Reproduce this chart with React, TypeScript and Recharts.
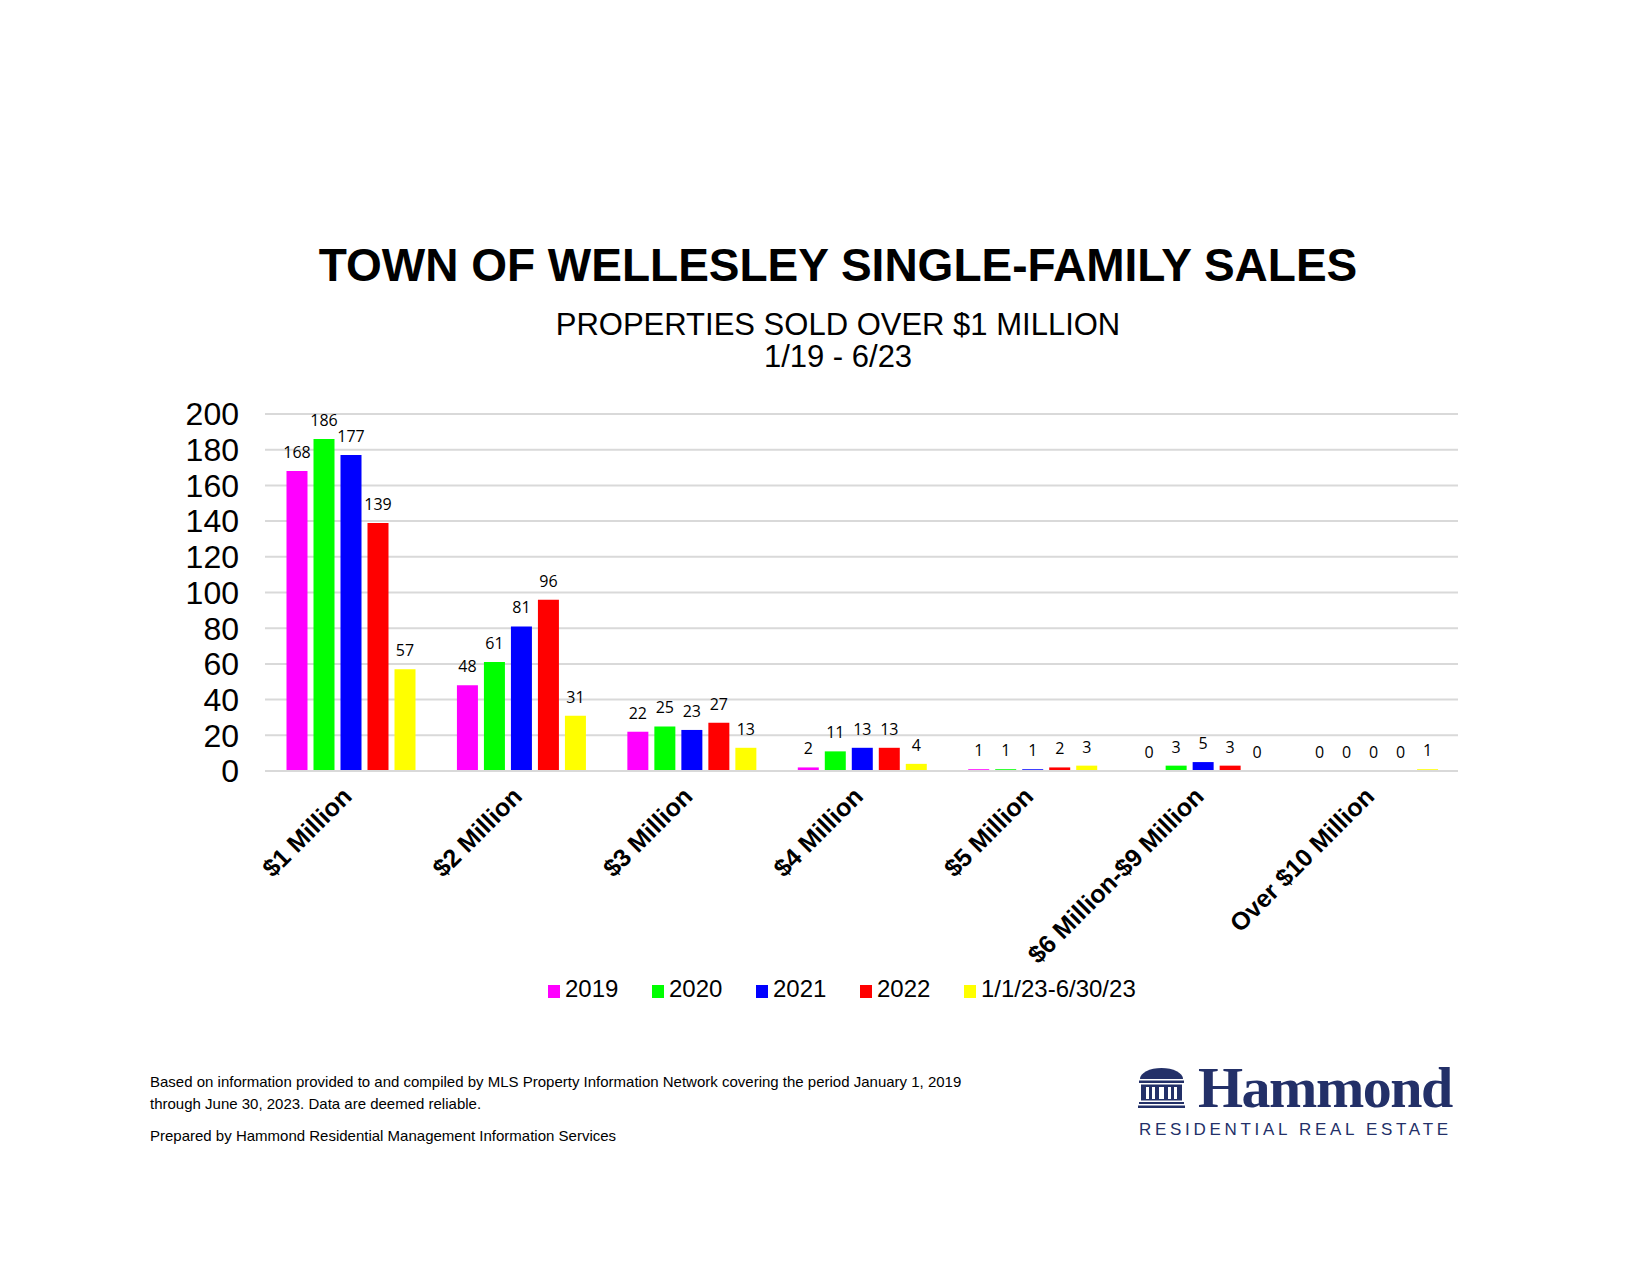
import React from "react"
import { BarChart, Bar, XAxis, YAxis, CartesianGrid, LabelList } from "recharts"

const CATEGORIES = [
  "$1 Million",
  "$2 Million",
  "$3 Million",
  "$4 Million",
  "$5 Million",
  "$6 Million-$9 Million",
  "Over $10 Million",
]

const SALES_2019 = [168, 48, 22, 2, 1, 0, 0]
const SALES_2020 = [186, 61, 25, 11, 1, 3, 0]
const SALES_2021 = [177, 81, 23, 13, 1, 5, 0]
const SALES_2022 = [139, 96, 27, 13, 2, 3, 0]
const SALES_2023 = [57, 31, 13, 4, 3, 0, 1]

const Y_TICKS = [0, 20, 40, 60, 80, 100, 120, 140, 160, 180, 200]

const SERIES = [
  { key: "y2019", name: "2019", color: "#ff00ff", values: SALES_2019 },
  { key: "y2020", name: "2020", color: "#00ff00", values: SALES_2020 },
  { key: "y2021", name: "2021", color: "#0000ff", values: SALES_2021 },
  { key: "y2022", name: "2022", color: "#ff0000", values: SALES_2022 },
  { key: "y2023", name: "1/1/23-6/30/23", color: "#ffff00", values: SALES_2023 },
]

const NAVY = "#233068"
const GRID = "#d9d9d9"
const SANS = "'Liberation Sans', Arial, sans-serif"

const data = CATEGORIES.map((category, i) => {
  const row: Record<string, string | number> = { category }
  SERIES.forEach((s) => {
    row[s.key] = s.values[i]
  })
  return row
})

function CategoryTick({ x, y, payload }: any) {
  const tx = x + 3
  const ty = y + 27
  return (
    <text
      x={tx}
      y={ty}
      transform={`rotate(-45 ${tx} ${ty})`}
      textAnchor="end"
      fontFamily={SANS}
      fontWeight="bold"
      fontSize={25}
      fill="#000"
    >
      {payload.value}
    </text>
  )
}

function HammondLogo() {
  return (
    <g fill={NAVY}>
      <path d="M1140,1079 A21.5,11 0 0 1 1183,1079 Z" />
      <rect x={1139} y={1080.5} width={45} height={2.5} />
      <rect x={1141} y={1084.5} width={41} height={16} />
      <rect x={1146} y={1087} width={3} height={12} fill="#fff" />
      <rect x={1152} y={1087} width={3} height={12} fill="#fff" />
      <rect x={1159} y={1087} width={5} height={12} fill="#fff" />
      <rect x={1168} y={1087} width={3} height={12} fill="#fff" />
      <rect x={1174} y={1087} width={3} height={12} fill="#fff" />
      <rect x={1139} y={1102} width={45} height={2} />
      <rect x={1138} y={1105.5} width={47} height={2.5} />
      <text
        x={1198}
        y={1107}
        fontFamily="'Liberation Serif', 'Times New Roman', serif"
        fontWeight="bold"
        fontSize={58}
        letterSpacing={-1.5}
      >
        Hammond
      </text>
      <text x={1139} y={1135} fontFamily={SANS} fontSize={17} letterSpacing={3.7}>
        RESIDENTIAL REAL ESTATE
      </text>
    </g>
  )
}

export default function App() {
  return (
    <div
      style={{
        position: "absolute",
        left: 0,
        top: 0,
        width: 1650,
        height: 1275,
        background: "#fff",
        fontFamily: SANS,
        overflow: "hidden",
      }}
    >
      <div style={{ position: "absolute", left: 0, top: 0 }}>
        <BarChart
          width={1650}
          height={1275}
          data={data}
          margin={{ top: 414, right: 192, left: 205, bottom: 404 }}
          barCategoryGap={21.5}
          barGap={6}
        >
          <CartesianGrid vertical={false} stroke={GRID} strokeWidth={2} />
          <XAxis
            dataKey="category"
            height={100}
            axisLine={{ stroke: GRID, strokeWidth: 2 }}
            tickLine={false}
            tickSize={0}
            tickMargin={0}
            interval={0}
            tick={<CategoryTick />}
          />
          <YAxis
            width={60}
            domain={[0, 200]}
            ticks={Y_TICKS}
            interval={0}
            axisLine={false}
            tickLine={false}
            tickSize={0}
            tickMargin={26}
            tick={{ fontSize: 32, fill: "#000", fontFamily: SANS }}
          />
          {SERIES.map((s) => (
            <Bar
              key={s.key}
              dataKey={s.key}
              name={s.name}
              fill={s.color}
              minPointSize={0.01}
              isAnimationActive={false}
            >
              <LabelList
                dataKey={s.key}
                position="top"
                offset={13}
                fill="#000"
                fontSize={16}
                fontFamily="'Open Sans', sans-serif"
              />
            </Bar>
          ))}
        </BarChart>
      </div>

      <div
        style={{
          position: "absolute",
          left: 548,
          top: 975,
          display: "flex",
          alignItems: "flex-end",
          whiteSpace: "nowrap",
        }}
      >
        {SERIES.map((s) => (
          <div key={s.key} style={{ display: "flex", alignItems: "flex-end", marginRight: 33.6 }}>
            <span
              style={{
                display: "inline-block",
                width: 12,
                height: 13,
                background: s.color,
                marginRight: 5,
                marginBottom: 5,
              }}
            />
            <span style={{ fontSize: 24, lineHeight: "28px", color: "#000" }}>{s.name}</span>
          </div>
        ))}
      </div>

      <svg
        width={1650}
        height={1275}
        style={{ position: "absolute", left: 0, top: 0, pointerEvents: "none" }}
      >
        <text x={838} y={281} textAnchor="middle" fontFamily={SANS} fontWeight="bold" fontSize={46}>
          TOWN OF WELLESLEY SINGLE-FAMILY SALES
        </text>
        <text x={838} y={335} textAnchor="middle" fontFamily={SANS} fontSize={31}>
          PROPERTIES SOLD OVER $1 MILLION
        </text>
        <text x={838} y={367} textAnchor="middle" fontFamily={SANS} fontSize={31}>
          1/19 - 6/23
        </text>
        <g fontFamily={SANS} fontSize={15} fill="#000">
          <text x={150} y={1087}>
            Based on information provided to and compiled by MLS Property Information Network covering the period January 1, 2019
          </text>
          <text x={150} y={1109}>through June 30, 2023. Data are deemed reliable.</text>
          <text x={150} y={1141}>Prepared by Hammond Residential Management Information Services</text>
        </g>
        <HammondLogo />
      </svg>
    </div>
  )
}
